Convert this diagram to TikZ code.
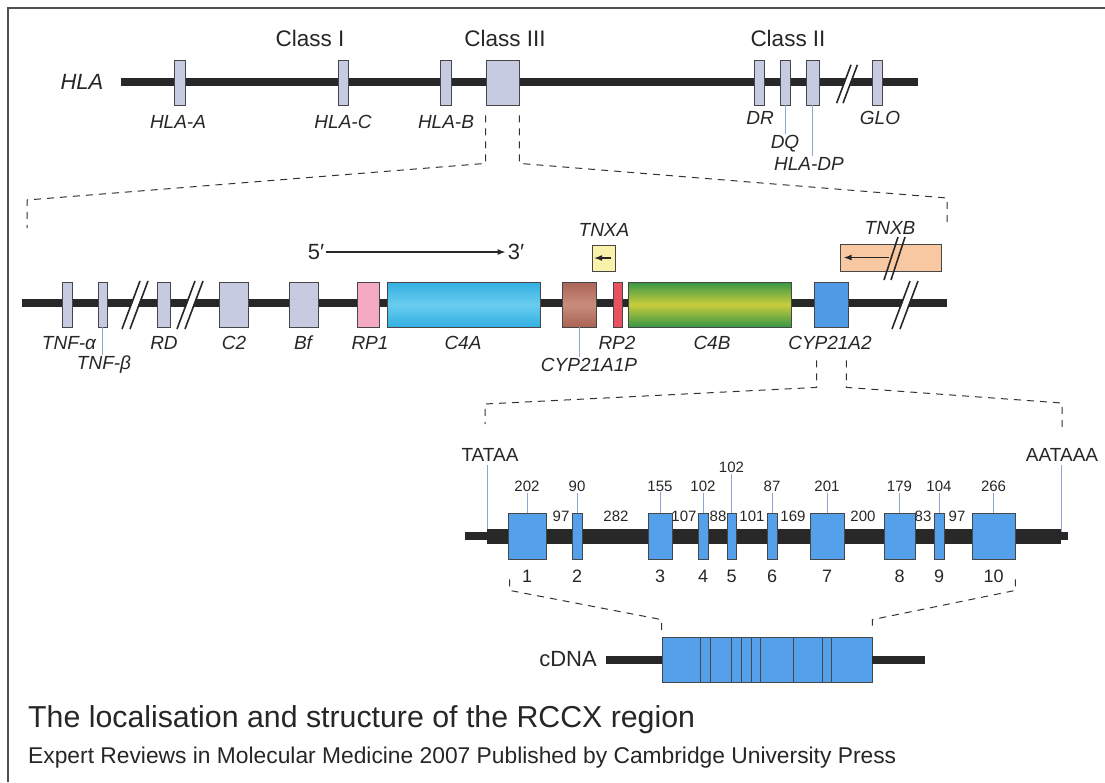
\documentclass[tikz,border=0pt]{standalone}
\usepackage{fontspec}
\setmainfont{Liberation Sans}
\usetikzlibrary{arrows.meta,positioning}
\definecolor{backbone}{RGB}{40,40,40}
\definecolor{boxline}{RGB}{70,70,70}
\definecolor{framegray}{RGB}{80,80,80}
\definecolor{hlagray}{RGB}{198,203,225}
\definecolor{leadblue}{RGB}{140,165,210}
\definecolor{exonblue}{RGB}{85,160,235}
\definecolor{cypblue}{RGB}{80,155,230}
\definecolor{rppink}{RGB}{245,170,196}
\definecolor{rpred}{RGB}{232,82,96}
\definecolor{c4cyan}{RGB}{50,175,225}
\definecolor{c4cyanlt}{RGB}{105,205,240}
\definecolor{c4green}{RGB}{55,150,70}
\definecolor{c4yellow}{RGB}{200,205,60}
\definecolor{cypbrown}{RGB}{170,100,85}
\definecolor{cypbrownlt}{RGB}{200,140,125}
\definecolor{tnxyel}{RGB}{250,242,170}
\definecolor{tnxpeach}{RGB}{248,200,162}
\newcommand\fsz[1]{\fontsize{#1}{#1}\selectfont}

\begin{document}
\begin{tikzpicture}[x=1pt,y=-1pt,
        bb/.style={line width=8pt,draw=backbone},
        gene/.style={draw=boxline,line width=0.8pt,fill=hlagray,inner sep=0pt,
            minimum height=45pt},
        exon/.style={gene,fill=exonblue,minimum height=46pt},
        lbl/.style={font=\fsz{19}\itshape,inner sep=1pt,text=black!85},
        cls/.style={font=\fsz{22.5},text=black!85},
        num/.style={font=\fsz{15},inner sep=1pt,text=black!85},
        lead/.style={draw=leadblue,line width=0.9pt},
        guide/.style={draw=black!80,line width=1pt,dash pattern=on 7pt off 6pt},
        arr/.style={-{Latex[length=8pt,width=6pt]},line width=1.3pt,draw=backbone},
        cut/.pic={
            \draw[white,line width=6pt] (-6,16) -- (6,-16);
            \draw[backbone,line width=1.6pt] (-13,24) -- (5,-24) (-5,24) -- (13,-24);
        }]
	\useasboundingbox (0,0) rectangle (1105,782);
	\draw[framegray,line width=1.8pt] (8,782) -- (8,8) -- (1105,8);

	\node[font=\fsz{22}\itshape,text=black!85] (hla) at (82,82) {HLA};
	\draw[bb] (121,82) -- (918,82);
	\pic[scale=0.8] at (847,84) {cut};
	\foreach \n/\x/\w in {hlaa/179.5/11,hlac/343/10,hlab/445.5/11,cl3/502.5/33,
	        dr/759/10,dq/785/10,dp/812.5/13,glo/877/10}
	    \node[gene,minimum width=\w pt] (\n) at (\x,82.5) {};
	\node[cls] (cls1) at (310,38) {Class I};
	\node[cls] (cls3) at (505,38) {Class III};
	\node[cls] (cls2) at (788,38) {Class II};
	\node[lbl] (labhlaa) at (178,122) {HLA-A};
	\node[lbl] (labhlac) at (343,122) {HLA-C};
	\node[lbl] (labhlab) at (446,122) {HLA-B};
	\node[lbl] (labdr) at (760,118) {DR};
	\node[lbl] (labdq) at (785,144) {DQ};
	\node[lbl] (labdp) at (809,164) {HLA-DP};
	\node[lbl] (labglo) at (880,118) {GLO};
	\draw[lead] (dq.south) -- (dq.south |- labdq.north);
	\draw[lead] (dp.south) -- (dp.south |- labdp.north);

	\draw[guide] ([yshift=-10pt]cl3.south west) -- ++(0,48) -- (27,200) -- ++(0,28);
	\draw[guide] ([yshift=-10pt]cl3.south east) -- ++(0,48) -- (947,198) -- ++(0,24);

	\draw[bb] (22,303) -- (947,303);
	\foreach \xx in {135,190,905}
	    \pic at (\xx,305) {cut};
	\foreach \n/\x/\w in {tnfa/67/10,tnfb/102.5/9,rd/163.5/13,c2/233.5/29,bf/303.5/29}
	    \node[gene,minimum width=\w pt] (\n) at (\x,304.5) {};
	\node[gene,fill=rppink,minimum width=22pt] (rp1) at (368,304.5) {};
	\node[gene,top color=c4cyan,bottom color=c4cyan,middle color=c4cyanlt,
	    minimum width=153pt] (c4a) at (463.5,304.5) {};
	\node[gene,top color=cypbrown,bottom color=cypbrown,middle color=cypbrownlt,
	    minimum width=34pt] (cyp1) at (579,304.5) {};
	\node[gene,fill=rpred,minimum width=9pt] (rp2) at (617.5,304.5) {};
	\node[gene,top color=c4green,bottom color=c4green,middle color=c4yellow,
	    minimum width=163pt] (c4b) at (709.5,304.5) {};
	\node[gene,fill=cypblue,minimum width=34pt] (cyp2) at (831,304.5) {};
	\foreach \n/\x/\t in {tnfa/69/TNF-α,rd/164/RD,c2/234/C2,bf/303/Bf,rp1/370/RP1,
	        c4a/463/C4A,rp2/617/RP2,c4b/712/C4B,cyp2/830/CYP21A2}
	    \node[lbl] (lab\n) at (\x,343) {\t};
	\node[lbl] (labtnfb) at (104,365) {TNF-β};
	\node[lbl] (labcyp1) at (589,365) {CYP21A1P};
	\draw[lead] (tnfb.south) -- (tnfb.south |- labtnfb.north);
	\draw[lead] (cyp1.south) -- (cyp1.south |- labcyp1.north);

	\node[font=\fsz{22},inner sep=2pt,text=black!85] (p5) at (316,252) {5′};
	\node[font=\fsz{22},inner sep=2pt,text=black!85] (p3) at (516,252) {3′};
	\draw[arr] (p5) -- (p3);
	\node[lbl] (labtnxa) at (604,230) {TNXA};
	\node[gene,fill=tnxyel,minimum width=23pt,minimum height=26pt] (tnxa) at (603.5,258) {};
	\draw[arr] ([xshift=-4pt]tnxa.east) -- ([xshift=2.5pt]tnxa.west);
	\node[lbl] (labtnxb) at (890,228) {TNXB};
	\node[gene,fill=tnxpeach,minimum width=101pt,minimum height=27pt] (tnxb) at (890.5,257.5) {};
	\draw[arr] ([xshift=-2pt]tnxb.center) -- ([xshift=4pt]tnxb.west);
	\draw[backbone,line width=1.6pt] (884,280) -- (898,237) (891,280) -- (905,237);

	\draw[guide] ([xshift=3pt,yshift=-33pt]cyp2.south west) -- ++(0,27) -- (485,404) -- ++(0,20);
	\draw[guide] ([xshift=-2pt,yshift=-33pt]cyp2.south east) -- ++(0,27) -- (1062,403) -- ++(0,28);

	\node[font=\fsz{19},text=black!85] (tata) at (490,455) {TATAA};
	\node[font=\fsz{19},text=black!85] (aata) at (1062,455) {AATAAA};
	\coordinate (tss) at (487,536);
	\coordinate (pa) at (1061,536);
	\draw[lead] (tss |- tata.south) -- (tss);
	\draw[lead] (pa |- aata.south) -- (pa);
	\draw[bb] (465,536) -- (1068,536);
	\draw[bb,line width=15pt] (tss) -- (pa);
	\foreach \i/\x/\w/\s/\sy in {1/527/38/202/486,2/577/10/90/486,3/660/24/155/486,
	        4/703/10/102/486,5/731.5/9/102/467,6/772/10/87/486,7/827/34/201/486,
	        8/899.5/31/179/486,9/939/10/104/486,10/993.5/43/266/486}{
	    \node[exon,minimum width=\w pt] (e\i) at (\x,536) {};
	    \node[num,font=\fsz{18}] (n\i) at (\x,576) {\i};
	    \node[num] (s\i) at (\x,\sy) {\s};
	    \draw[lead] (s\i) -- (e\i);
	}
	\foreach \j/\x/\t in {1/561/97,2/616/282,3/684/107,4/718/88,5/752/101,
	        6/793/169,7/863/200,8/923/83,9/957/97}
	    \node[num] (i\j) at (\x,516) {\t};

	\node[exon,minimum width=210pt,minimum height=45pt] (cdna) at (767,659.5) {};
	\foreach \x in {700,710,731,741,751,760,793,822,831}
	    \draw[boxline,line width=1pt] (\x,637) -- (\x,682);
	\node[font=\fsz{22},text=black!85] (labcdna) at (568,659.5) {cDNA};
	\draw[bb] ([xshift=6pt]labcdna.east) -- (cdna.west);
	\draw[bb] (cdna.east) -- ++(53,0);
	\draw[guide] ([xshift=2pt,yshift=-20pt]e1.south west) -- ++(0,11)
	    -- ([yshift=17pt]cdna.north west) -- ([yshift=5pt]cdna.north west);
	\draw[guide] ([yshift=-20pt]e10.south east) -- ++(0,11)
	    -- ([yshift=17pt]cdna.north east) -- ([yshift=5pt]cdna.north east);

	\node[anchor=base west,font=\fsz{30.3},inner sep=0pt,text=black!85] (title) at (28,727)
	    {The localisation and structure of the RCCX region};
	\node[anchor=base west,font=\fsz{22.8},inner sep=0pt,text=black!85] (source) at (28,763)
	    {Expert Reviews in Molecular Medicine 2007 Published by Cambridge University Press};
\end{tikzpicture}
\end{document}
